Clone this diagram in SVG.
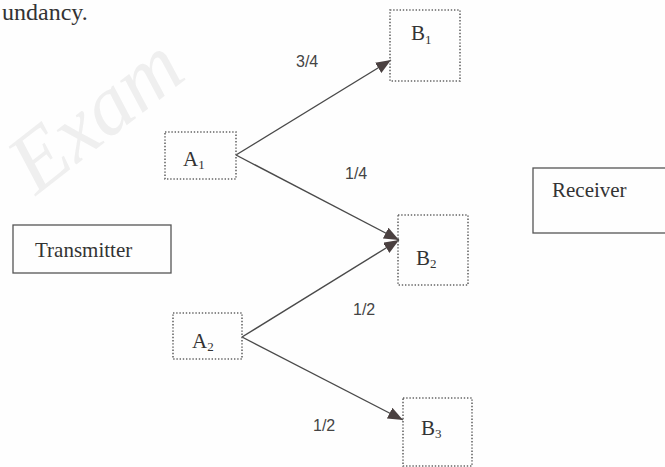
<svg xmlns="http://www.w3.org/2000/svg" width="665" height="467" viewBox="0 0 665 467">
<defs>
<style>
.dot{fill:none;stroke:#666;stroke-width:1.6;stroke-dasharray:1.4 1.8}
.solid{fill:none;stroke:#555;stroke-width:1.3}
.lbl{font-family:"Liberation Serif","Times New Roman",serif;fill:#333}
.prob{font-family:"Liberation Sans",Arial,sans-serif;font-size:16px;fill:#444}
.edge{stroke:#4a4a4a;stroke-width:1.4;fill:none;marker-end:url(#ah)}
</style>
<marker id="ah" markerUnits="userSpaceOnUse" markerWidth="16" markerHeight="12" refX="15" refY="6" orient="auto">
<path d="M0,0 L15,6 L0,12 Z" fill="#4a4040"/>
</marker>
</defs>
<rect width="665" height="467" fill="#fefefe"/>
<text x="36" y="196" transform="rotate(-38 36 196)" font-family="Liberation Serif,serif" font-style="italic" font-size="85" fill="#efefef">Exam</text>
<text x="2" y="20" class="lbl" font-size="24">undancy.</text>

<g id="connectors">
<line class="edge" x1="236" y1="155" x2="391" y2="60"/>
<line class="edge" x1="236" y1="155" x2="399" y2="240"/>
<line class="edge" x1="242" y1="337" x2="399" y2="240"/>
<line class="edge" x1="242" y1="337" x2="403" y2="420"/>
<text class="prob" x="296" y="67">3/4</text>
<text class="prob" x="345" y="179">1/4</text>
<text class="prob" x="353" y="315">1/2</text>
<text class="prob" x="313" y="431">1/2</text>
</g>

<g id="transmitter">
<rect class="solid" x="13" y="225" width="158" height="48"/>
<text class="lbl" x="35" y="257" font-size="21">Transmitter</text>
</g>
<g id="receiver">
<rect class="solid" x="533" y="168" width="140" height="65"/>
<text class="lbl" x="552" y="197" font-size="21">Receiver</text>
</g>

<g id="A1">
<rect class="dot" x="165" y="132" width="71" height="47"/>
<text class="lbl" x="183" y="166" font-size="21">A<tspan font-size="13" dy="3">1</tspan></text>
</g>
<g id="A2">
<rect class="dot" x="173" y="313" width="69" height="46"/>
<text class="lbl" x="192" y="348" font-size="21">A<tspan font-size="13" dy="3">2</tspan></text>
</g>
<g id="B1">
<rect class="dot" x="390" y="10" width="70" height="71"/>
<text class="lbl" x="411" y="40" font-size="21">B<tspan font-size="13" dy="4">1</tspan></text>
</g>
<g id="B2">
<rect class="dot" x="398" y="215" width="70" height="70"/>
<text class="lbl" x="416" y="265" font-size="21">B<tspan font-size="13" dy="3">2</tspan></text>
</g>
<g id="B3">
<rect class="dot" x="403" y="398" width="69" height="68"/>
<text class="lbl" x="421" y="435" font-size="21">B<tspan font-size="13" dy="3">3</tspan></text>
</g>
</svg>
